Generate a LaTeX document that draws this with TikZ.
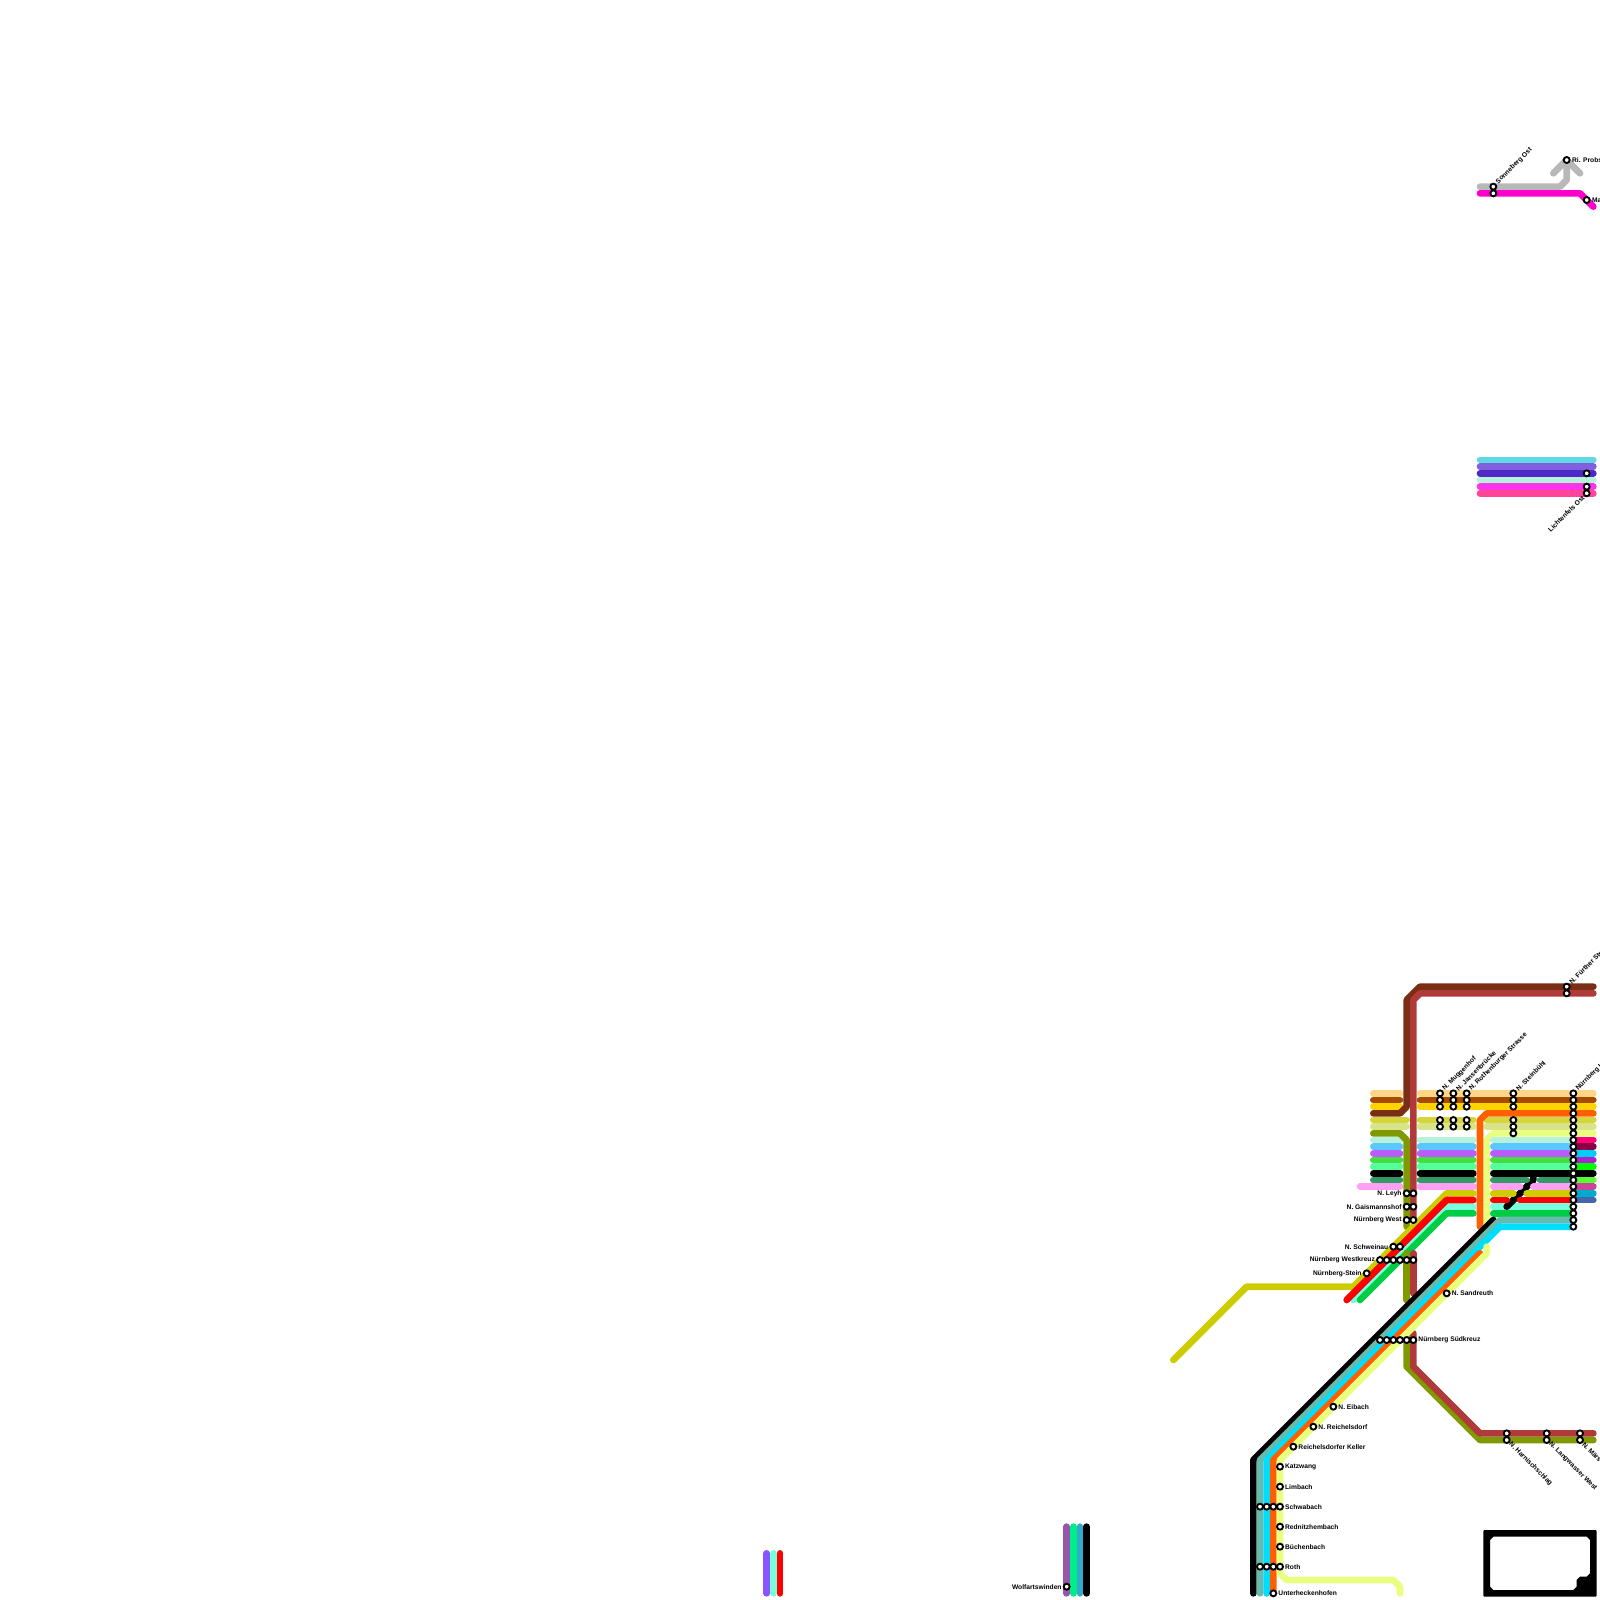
\documentclass[tikz,border=0pt]{standalone}
\usepackage{fontspec}
\setmainfont{Liberation Sans}
\definecolor{cLO}{HTML}{FFD685}
\definecolor{cBO}{HTML}{A84A00}
\definecolor{cYE}{HTML}{FFD300}
\definecolor{cDB}{HTML}{7A2E14}
\definecolor{cOR}{HTML}{FF5F00}
\definecolor{cOY}{HTML}{D6D63C}
\definecolor{cPL}{HTML}{D8E48A}
\definecolor{cOL}{HTML}{7F9900}
\definecolor{cPG}{HTML}{E8FF80}
\definecolor{cLT}{HTML}{B5F2DC}
\definecolor{cSK}{HTML}{5AC8FF}
\definecolor{cPU}{HTML}{BB5CFF}
\definecolor{cGR}{HTML}{44DD44}
\definecolor{cSP}{HTML}{55FF99}
\definecolor{cSG}{HTML}{339966}
\definecolor{cPK}{HTML}{FFA0F5}
\definecolor{cYL}{HTML}{CCCC00}
\definecolor{cAQ}{HTML}{77FFDD}
\definecolor{cGN}{HTML}{00CC44}
\definecolor{cTE}{HTML}{66BBAA}
\definecolor{cCY}{HTML}{00DDFF}
\definecolor{cRB}{HTML}{B03A3A}
\definecolor{cGY}{HTML}{B8B8B8}
\definecolor{cMG}{HTML}{FF00CC}
\tikzset{
 x=10pt,y=-10pt,
 rail/.style={line width=10pt,line cap=round,line join=round},
 station/.style={circle,draw=black,fill=white,line width=2.8pt,minimum size=9pt,inner sep=0pt,outer sep=0pt},
 lab/.style={font=\fontsize{10}{11}\selectfont\bfseries,inner sep=0pt,text=black},
 labr/.style={lab,anchor=west},
 labl/.style={lab,anchor=east},
 labup/.style={lab,anchor=west,rotate=45},
 labdn/.style={lab,anchor=west,rotate=-45},
}
\begin{document}
\begin{tikzpicture}
\useasboundingbox (0,0) rectangle (240,240);
% far left lines
\draw[rail,color={rgb,255:red,136;green,85;blue,255}] (115,233)--(115,239);
\draw[rail,cAQ] (116,233)--(116,239);
\draw[rail,red] (117,233)--(117,239);
% bottom group
\draw[rail,color={rgb,255:red,153;green,85;blue,170}] (160,229)--(160,239);
\draw[rail,color={rgb,255:red,0;green,238;blue,136}] (161,229)--(161,239);
\draw[rail,color={rgb,255:red,51;green,170;blue,204}] (162,229)--(162,239);
\draw[rail,black] (163,229)--(163,239);
% top group
\draw[rail,cGY] (222,28)--(234,28)--(235,27)--(235,24);
\draw[rail,cGY] (233,26)--(235,24)--(237,26);
\draw[rail,cMG] (222,29)--(237,29)--(239,31);
% middle group
\draw[rail,color={rgb,255:red,95;green,216;blue,228}] (222,69)--(239,69);
\draw[rail,color={rgb,255:red,128;green,96;blue,221}] (222,70)--(239,70);
\draw[rail,color={rgb,255:red,80;green,40;blue,200}] (222,71)--(239,71);
\draw[rail,cLT] (222,72)--(239,72);
\draw[rail,color={rgb,255:red,255;green,51;blue,232}] (222,73)--(239,73);
\draw[rail,color={rgb,255:red,255;green,68;blue,153}] (222,74)--(239,74);
% rows left of the verticals
\foreach \r/\c in {164/cLO,165/cBO,166/cYE,171/cLT,172/cSK,173/cPU,174/cGR,175/cSP,176/black,177/cSG}
  \draw[rail,\c] (206,\r)--(210,\r);
\draw[rail,cPK] (204,178)--(210,178);
\foreach \r/\c in {168/cOY,169/cPL}
  \draw[rail,\c] (206,\r)--(211,\r);
% dark brown and red brown
\draw[rail,cDB] (206,167)--(210,167)--(211,166)--(211,150)--(213,148)--(239,148);
\draw[rail,cRB] (212,183)--(212,150)--(213,149)--(239,149);
\draw[rail,cOL] (206,170)--(210,170)--(211,171)--(211,184);
% rows right of the verticals
\foreach \r/\c in {164/cLO,165/cBO,166/cYE}
  \draw[rail,\c] (213,\r)--(239,\r);
\foreach \r/\c in {168/cOY,169/cPL}{
  \draw[rail,\c] (213,\r)--(221,\r);
  \draw[rail,\c] (223,\r)--(239,\r);
}
\foreach \r/\c in {171/cLT,172/cSK,173/cPU,174/cGR,175/cSP,176/black,177/cSG,178/cPK}
  \draw[rail,\c] (213,\r)--(221,\r);
% pale and orange branch
\draw[rail,cPG] (239,170)--(224,170)--(223,171)--(223,184);
\draw[rail,cOR] (239,167)--(223,167)--(222,168)--(222,184);
% upper right rows
\foreach \r/\c in {171/cLT,172/cSK,173/cPU,174/cGR,175/cSP,176/black,181/cAQ,182/cGN}
  \draw[rail,\c] (224,\r)--(236,\r);
\draw[rail,black] (226,181)--(230,177)--(230,176);
\draw[rail,cSG] (224,177)--(229,177);
\draw[rail,cSG] (231,177)--(236,177);
\draw[rail,cPK] (224,178)--(228,178);
\draw[rail,cPK] (230,178)--(236,178);
\draw[rail,cYL] (224,179)--(227,179);
\draw[rail,cYL] (229,179)--(236,179);
\draw[rail,red] (224,180)--(226,180);
\draw[rail,red] (228,180)--(236,180);
% short coloured ends
\foreach \r/\c in {171/FF0077,172/8B0044,173/00CCFF,174/AA22CC,175/00FF00,177/55FF33,178/CC4499,179/00AACC,180/4466AA}{
  \definecolor{tmpc}{HTML}{\c}
  \draw[rail,tmpc] (236,\r)--(239,\r);
}
\draw[rail,black] (236,176)--(239,176);
% diagonal group
\draw[rail,cYL] (221,179)--(217,179)--(203,193)--(187,193)--(176,204);
\draw[rail,cAQ] (221,181)--(217,181)--(203,195);
\draw[rail,red] (221,180)--(217,180)--(202,195);
\draw[rail,cGN] (221,182)--(217,182)--(204,195);
% lower olive and red brown
\draw[rail,cOL] (211,188)--(211,195);
\draw[rail,cRB] (212,188)--(212,194);
\draw[rail,cOL] (211,199)--(211,205)--(222,216)--(239,216);
\draw[rail,cRB] (212,200)--(212,205)--(222,215)--(239,215);
% trunk
\draw[rail,black] (188,239)--(188,219)--(224,183);
\draw[rail,cTE] (189,239)--(189,219)--(225,183)--(236,183);
\draw[rail,cCY] (190,239)--(190,219)--(225,184)--(236,184);
\draw[rail,cOR] (191,239)--(191,219)--(222,188);
\draw[rail,cPG] (210,239)--(210,238)--(209,237)--(193,237)--(192,236)--(192,219)--(223,188)--(223,187);
% frame
\fill[black,even odd rule] (222.65,229.5)--(239.35,229.5)--(239.5,229.65)--(239.5,239.35)--(239.35,239.5)--(222.65,239.5)--(222.5,239.35)--(222.5,229.65)--cycle
 (224,230.5)--(238,230.5)--(238.5,231)--(238.5,236)--(238,236.5)--(237,236.5)--(236.5,237)--(236.5,238)--(236,238.5)--(224,238.5)--(223.5,238)--(223.5,231)--cycle;
% stations
\foreach \c/\r in {224/28,224/29,235/24,238/30,238/71,238/73,238/74,
 235/148,235/149,
 216/164,216/165,216/166,216/168,216/169,
 218/164,218/165,218/166,218/168,218/169,
 220/164,220/165,220/166,220/168,220/169,
 227/164,227/165,227/166,227/168,227/169,227/170,
 211/179,212/179,211/181,212/181,211/183,212/183,
 209/187,210/187,
 207/189,208/189,209/189,210/189,211/189,212/189,
 205/191,217/194,
 207/201,208/201,209/201,210/201,211/201,212/201,
 200/211,197/214,194/217,192/220,192/223,
 189/226,190/226,191/226,192/226,
 192/229,192/232,
 189/235,190/235,191/235,192/235,
 191/239,160/238,
 226/215,226/216,232/215,232/216,237/215,237/216}
  \node[station] (st-\c-\r) at (\c,\r) {};
\foreach \r in {164,...,184}
  \node[station] (st-236-\r) at (236,\r) {};
% labels
\node[labup] (l1) at (224.55,27.45) {Sonneberg Ost};
\node[labr] (l2) at (235.8,24) {Ri. Probs};
\node[labr] (l3) at (238.8,30) {Ma};
\node[lab,anchor=east,rotate=45] (l4) at (237.5,74.5) {Lichtenfels Ost};
\node[labup] (l5) at (235.55,147.45) {N. Fürther Str};
\node[labup] (l6) at (216.55,163.45) {N. Muggenhof};
\node[labup] (l7) at (218.55,163.45) {N. Jansenbrücke};
\node[labup] (l8) at (220.55,163.45) {N. Rothenburger Strasse};
\node[labup] (l9) at (227.55,163.45) {N. Steinbühl};
\node[labup] (l10) at (236.55,163.45) {Nürnberg H};
\node[labl] (l11) at (210.25,179) {N. Leyh};
\node[labl] (l12) at (210.25,181) {N. Gaismannshof};
\node[labl] (l13) at (210.25,183) {Nürnberg West};
\node[labl] (l14) at (208.25,187) {N. Schweinau};
\node[labl] (l15) at (206.25,189) {Nürnberg Westkreuz};
\node[labl] (l16) at (204.25,191) {Nürnberg-Stein};
\node[labr] (l17) at (217.75,194) {N. Sandreuth};
\node[labr] (l18) at (212.75,201) {Nürnberg Südkreuz};
\node[labr] (l19) at (200.75,211) {N. Eibach};
\node[labr] (l20) at (197.75,214) {N. Reichelsdorf};
\node[labr] (l21) at (194.75,217) {Reichelsdorfer Keller};
\node[labr] (l22) at (192.75,220) {Katzwang};
\node[labr] (l23) at (192.75,223) {Limbach};
\node[labr] (l24) at (192.75,226) {Schwabach};
\node[labr] (l25) at (192.75,229) {Rednitzhembach};
\node[labr] (l26) at (192.75,232) {Büchenbach};
\node[labr] (l27) at (192.75,235) {Roth};
\node[labr] (l28) at (191.75,239) {Unterheckenhofen};
\node[labl] (l29) at (159.25,238) {Wolfartswinden};
\node[labdn] (l30) at (226.5,216.5) {N. Harnischschlag};
\node[labdn] (l31) at (232.5,216.5) {N. Langwasser West};
\node[labdn] (l32) at (237.5,216.5) {N. Märs};
\end{tikzpicture}
\end{document}
